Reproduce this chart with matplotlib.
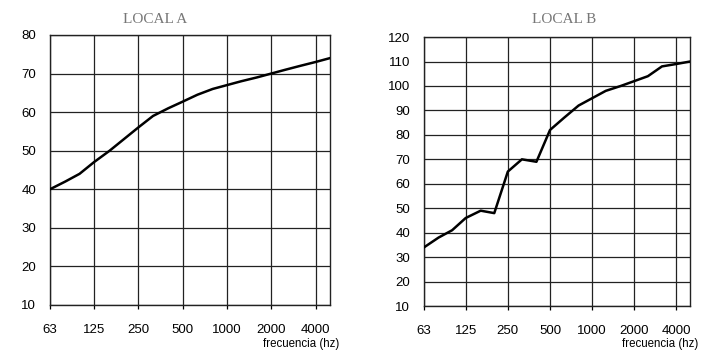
import matplotlib.pyplot as plt

# third-octave centre frequencies (Hz)
freqs = [63, 80, 100, 125, 160, 200, 250, 315, 400, 500, 630, 800,
         1000, 1250, 1600, 2000, 2500, 3150, 4000, 5000]

local_a = [40, 42, 44, 47, 50, 53, 56, 59, 61, 62.7, 64.5, 66,
           67, 68, 69, 70, 71, 72, 73, 74]
local_b = [34, 38, 41, 46, 49, 48, 65, 70, 69, 82, 87, 92,
           95, 98, 100, 102, 104, 108, 109, 110]

xticks = [63, 125, 250, 500, 1000, 2000, 4000]
xticklabels = ["63", "125", "250", "500", "1000", "2000", "4000"]

fig = plt.figure(figsize=(7.02, 3.53), dpi=100)
plt.rcParams['font.family'] = ['Liberation Sans', 'DejaVu Sans']

def draw(ax, y, ylim, title, title_x):
    ax.plot(freqs, y, color="black", lw=1.8, zorder=3)
    ax.set_xscale("log")
    ax.set_xlim(63, 5000)
    ax.set_ylim(*ylim)
    ax.set_xticks(xticks)
    ax.set_xticklabels(xticklabels)
    ax.minorticks_off()
    ax.set_yticks(range(ylim[0], ylim[1] + 1, 10))
    ax.grid(True, color="#222222", lw=0.9)
    for s in ax.spines.values():
        s.set_color("#222222")
        s.set_linewidth(1.0)
    ax.tick_params(axis="x", length=3, pad=11, labelsize=9.5, width=0.9)
    ax.tick_params(axis="y", length=0, pad=10, labelsize=9.5)
    fig.text(title_x, 0.945, title, ha="center", va="center",
             family="Liberation Serif", fontsize=11, color="#777777")

ax1 = fig.add_axes([0.0712, 0.136, 0.3989, 0.765])
draw(ax1, local_a, (10, 80), "LOCAL A", 155 / 702)
fig.text(339 / 702, 1 - 344 / 353, "frecuencia (hz)", ha="right", va="center",
         fontsize=8.3)

ax2 = fig.add_axes([0.604, 0.133, 0.379, 0.762])
draw(ax2, local_b, (10, 120), "LOCAL B", 564 / 702)
fig.text(698 / 702, 1 - 344 / 353, "frecuencia (hz)", ha="right", va="center",
         fontsize=8.3)

fig.savefig("out.png", dpi=100)
